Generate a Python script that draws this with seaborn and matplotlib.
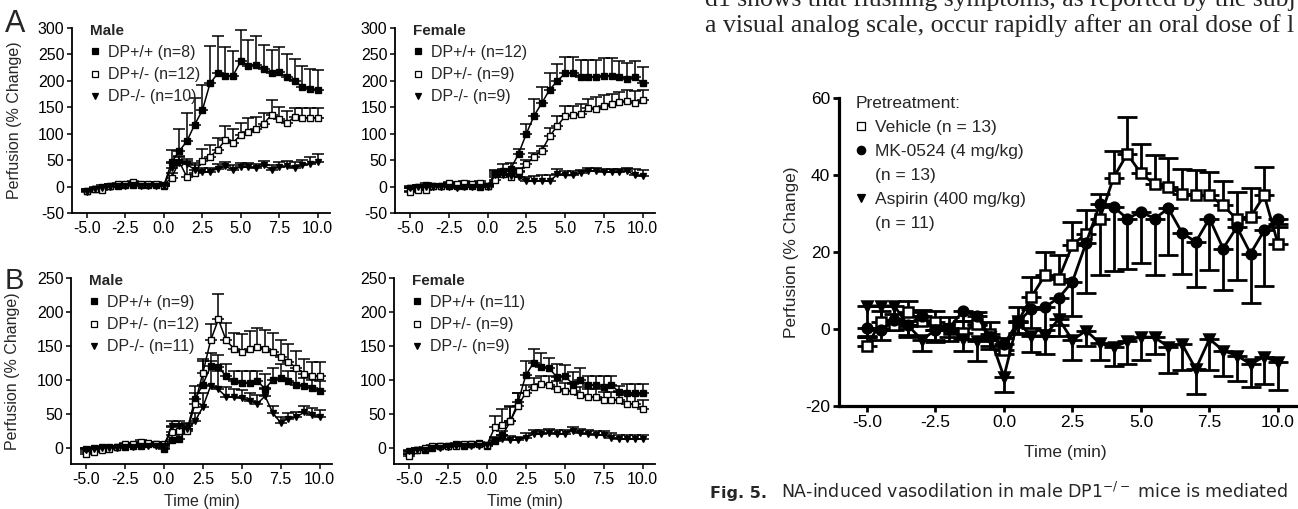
import numpy as np
import pandas as pd
import seaborn as sns
import matplotlib.pyplot as plt
from matplotlib.lines import Line2D

# time points (min)
time = [-5.0, -4.5, -4.0, -3.5, -3.0, -2.5, -2.0, -1.5, -1.0, -0.5, 0.0,
        0.5, 1.0, 1.5, 2.0, 2.5, 3.0, 3.5, 4.0, 4.5, 5.0,
        5.5, 6.0, 6.5, 7.0, 7.5, 8.0, 8.5, 9.0, 9.5, 10.0]

# panel A, male
a_male_wt = [-8, -4, 0, 1, 2, 3, 3, 3, 3, 3, 2, 46, 67, 86, 117, 144, 195, 214, 209, 210, 237,
             229, 230, 222, 215, 216, 207, 199, 189, 184, 182]
a_male_wt_err = [3, 3, 3, 3, 3, 3, 3, 3, 3, 3, 3, 23, 41, 53, 51, 49, 70, 70, 55, 46, 60,
                 48, 54, 45, 43, 48, 43, 43, 40, 39, 39]
a_male_het = [-8, -5, -7, 2, 4, 4, 8, 4, 5, 5, 3, 17, 47, 18, 25, 49, 56, 70, 88, 83, 98,
              103, 109, 119, 136, 128, 120, 132, 130, 130, 130]
a_male_het_err = [3, 3, 3, 3, 3, 3, 3, 3, 3, 3, 3, 8, 8, 30, 20, 22, 23, 22, 26, 26, 22,
                  27, 23, 20, 27, 23, 23, 16, 19, 19, 19]
a_male_ko = [-10, -5, -2, 0, 1, 2, 3, 2, 2, 1, 2, 35, 45, 42, 32, 27, 28, 34, 38, 32, 37,
             37, 35, 40, 32, 37, 38, 36, 40, 43, 46]
a_male_ko_err = [2, 2, 2, 2, 2, 2, 2, 2, 2, 2, 2, 10, 12, 10, 8, 8, 8, 8, 8, 8, 8,
                 8, 8, 8, 8, 10, 10, 10, 10, 12, 16]

# panel A, female
a_fem_wt = [-3, 0, 3, 2, 2, 2, 2, 2, 2, 0, 2, 25, 30, 34, 62, 100, 134, 158, 183, 200, 214,
            214, 207, 207, 207, 210, 210, 207, 204, 207, 195]
a_fem_wt_err = [3, 3, 3, 3, 3, 3, 3, 3, 3, 3, 3, 7, 12, 11, 10, 18, 31, 31, 31, 31, 31,
                31, 33, 33, 33, 33, 33, 30, 30, 30, 31]
a_fem_het = [-11, -7, -7, 2, 2, 6, 5, 7, 5, 7, 1, 13, 24, 18, 29, 42, 56, 68, 95, 115, 133,
             136, 137, 149, 146, 152, 156, 160, 161, 158, 163]
a_fem_het_err = [3, 3, 3, 3, 3, 3, 3, 3, 3, 3, 3, 6, 6, 6, 6, 8, 8, 8, 15, 18, 19,
                 17, 20, 16, 24, 21, 20, 18, 21, 23, 20]
a_fem_ko = [-2, 0, 0, 0, 0, 0, -3, 0, 0, 0, 0, 22, 22, 20, 18, 10, 10, 11, 10, 23, 21,
            21, 26, 30, 30, 28, 27, 27, 30, 21, 20]
a_fem_ko_err = [3, 3, 3, 3, 3, 3, 3, 3, 3, 3, 3, 8, 12, 12, 10, 8, 10, 10, 12, 10, 8,
                8, 6, 6, 6, 6, 6, 6, 6, 12, 12]

# panel B, male
b_male_wt = [-2, -1, 1, 1, 1, 1, 2, 3, 5, 5, -2, 11, 13, 27, 72, 93, 120, 119, 105, 98, 96,
             96, 98, 87, 100, 102, 99, 93, 91, 88, 84]
b_male_wt_err = [2, 2, 2, 2, 2, 2, 2, 2, 2, 2, 2, 8, 10, 10, 19, 35, 20, 17, 18, 15, 17,
                 17, 15, 21, 18, 21, 14, 20, 12, 12, 14]
b_male_het = [-9, -7, -4, -2, 1, 5, 5, 9, 7, 6, 6, 23, 25, 24, 65, 110, 158, 189, 158, 146, 141,
              145, 148, 146, 141, 133, 126, 118, 109, 105, 105]
b_male_het_err = [2, 2, 2, 2, 2, 2, 2, 2, 2, 2, 2, 8, 8, 8, 15, 21, 24, 38, 26, 23, 27,
                  27, 28, 27, 28, 26, 27, 24, 21, 21, 21]
b_male_ko = [-3, -2, -1, 0, 0, 1, 1, 2, 3, 3, 2, 32, 32, 27, 39, 60, 91, 86, 75, 75, 73,
             69, 65, 76, 51, 37, 43, 45, 52, 48, 45]
b_male_ko_err = [2, 2, 2, 2, 2, 2, 2, 2, 2, 2, 2, 8, 8, 8, 12, 20, 37, 27, 14, 12, 12,
                 12, 12, 12, 10, 8, 8, 8, 10, 10, 10]

# panel B, female
b_fem_wt = [-9, -3, -3, 0, 3, 3, 5, 3, 5, 7, 2, 10, 18, 39, 67, 107, 125, 119, 117, 104, 106,
            94, 100, 92, 92, 89, 92, 82, 80, 80, 80]
b_fem_wt_err = [2, 2, 2, 2, 2, 2, 2, 2, 2, 2, 2, 5, 6, 21, 13, 21, 21, 20, 15, 19, 16,
                17, 17, 13, 13, 16, 13, 9, 14, 14, 14]
b_fem_het = [-12, -4, -1, 2, 3, 3, 2, 6, 5, 5, 4, 30, 34, 39, 62, 81, 90, 94, 93, 87, 84,
             83, 77, 75, 75, 70, 70, 71, 65, 64, 57]
b_fem_het_err = [2, 2, 2, 2, 2, 2, 2, 2, 2, 2, 2, 16, 23, 23, 19, 12, 12, 12, 12, 12, 12,
                 12, 12, 12, 12, 12, 12, 12, 12, 14, 14]
b_fem_ko = [-5, -3, -3, -1, 0, 1, 2, 3, 3, 3, 4, 11, 13, 12, 11, 15, 20, 20, 22, 20, 20,
            25, 21, 20, 19, 19, 15, 13, 13, 13, 13]
b_fem_ko_err = [2, 2, 2, 2, 2, 2, 2, 2, 2, 2, 2, 5, 5, 5, 5, 6, 6, 6, 6, 6, 6,
                6, 6, 6, 6, 6, 6, 6, 6, 6, 6]

# Fig. 5 pretreatment panel
vehicle = [-4.3, 1.7, 1.0, 4.3, 2.0, 1.7, 0.0, -1.0, 1.3, -1.3, -5.4, 1.7, 8.3, 14.0, 13.1, 21.8,
           24.8, 28.7, 39.3, 45.5, 40.4, 37.6, 36.9, 35.1, 34.7, 34.7, 32.1, 28.5, 29.1, 34.7, 22.2]
vehicle_err = [2.5, 3, 3, 3, 3, 3, 3, 3, 3, 3, 3, 4, 5.3, 6, 6, 6, 6, 6.3, 7, 9.6, 7.7,
               7.6, 7.4, 6.4, 6.5, 6, 6.3, 7.2, 7.6, 7.3, 5]
mk0524 = [0.3, -0.3, 2.3, 1.0, 3.5, -0.3, 0.3, 4.6, 3.5, -2.0, -4.0, 1.7, 5.2, 5.7, 8.1, 12.3,
          22.4, 32.4, 31.7, 28.7, 30.4, 28.7, 31.3, 25.0, 22.6, 28.7, 20.9, 26.5, 19.6, 25.6, 28.5]
mk0524_err = [2.5, 2.5, 2.5, 2.5, 2.5, 2.5, 2.5, 2.5, 2.5, 2.5, 2.5, 3, 5, 6, 7, 9,
              13, 18.5, 16.7, 13, 13.3, 14.7, 12.1, 10.8, 11.6, 13.5, 10.8, 13.9, 12.8, 14.4, 2]
aspirin = [6, 6, 6, 0.9, -2.8, -0.3, 0, -2.6, -3.2, -2.2, -12.4, 2.0, -1.9, -1.7, 2.6, -2.9,
           -0.4, -3.7, -4.8, -3.2, -2.0, -2.2, -4.6, -3.9, -10.4, -2.6, -5.6, -6.9, -9.1, -7.2, -8.7]
aspirin_err = [8, 6, 6, 3, 3, 3, 3, 3, 5, 3, 4, 3, 4.2, 4.7, 4.3, 5.2,
               3.9, 4.3, 4.8, 6, 6, 4.3, 6.9, 6.7, 6.5, 8, 6.5, 6.7, 6, 7, 7.2]

male_a_labels = ['DP+/+ (n=8)', 'DP+/- (n=12)', 'DP-/- (n=10)']
fem_a_labels = ['DP+/+ (n=12)', 'DP+/- (n=9)', 'DP-/- (n=9)']
male_b_labels = ['DP+/+ (n=9)', 'DP+/- (n=12)', 'DP-/- (n=11)']
fem_b_labels = ['DP+/+ (n=11)', 'DP+/- (n=9)', 'DP-/- (n=9)']
pre_labels = ['Vehicle (n = 13)', 'MK-0524 (4 mg/kg)', '(n = 13)', 'Aspirin (400 mg/kg)', '(n = 11)']

sns.set_theme(style="ticks")
plt.rcParams['font.family'] = ['Liberation Sans', 'DejaVu Sans']
plt.rcParams['axes.edgecolor'] = 'black'
plt.rcParams['xtick.color'] = 'black'
plt.rcParams['ytick.color'] = 'black'
plt.rcParams['axes.unicode_minus'] = False

W, H = 1298, 509
fig = plt.figure(figsize=(W / 100, H / 100), dpi=100)


def box(x0, y_top, w, h):
    return [x0 / W, 1 - (y_top + h) / H, w / W, h / H]


def series(ax, y, err, marker, filled, ms, lw, cap, down=False):
    n = len(err)
    yerr = [err, [0] * n] if down else [[0] * n, err]
    ax.errorbar(time, y, yerr=yerr, fmt='none', ecolor='black',
                elinewidth=lw, capsize=cap, capthick=lw, zorder=2)
    df = pd.DataFrame({'Time': time, 'Perfusion': y})
    sns.lineplot(data=df, x='Time', y='Perfusion', ax=ax, color='black', lw=lw,
                 marker=marker, ms=ms, mfc='black' if filled else 'white',
                 mec='black', mew=lw * 0.9, zorder=3)
    return Line2D([], [], ls='none', marker=marker, ms=ms * 0.85, color='black',
                  mfc='black' if filled else 'white', mec='black', mew=0.9)


def small_panel(rect, ylim, yticks, data, labels, title, xlabel, ylabel):
    ax = fig.add_axes(rect)
    styles = [('s', True), ('s', False), ('v', True)]
    handles = []
    for (y, e), (m, f) in zip(data, styles):
        handles.append(series(ax, y, e, m, f, ms=4.3, lw=1.1, cap=4.2))
    ax.set_xlim(-5.97, 10.8)
    ax.set_ylim(*ylim)
    ax.set_xticks([-5, -2.5, 0, 2.5, 5, 7.5, 10])
    ax.set_xticklabels(['-5.0', '-2.5', '0.0', '2.5', '5.0', '7.5', '10.0'])
    ax.set_yticks(yticks)
    ax.tick_params(labelsize=11.5, length=3.5, width=1.1, pad=2)
    for s in ['left', 'bottom']:
        ax.spines[s].set_linewidth(1.3)
    sns.despine(ax=ax)
    ax.set_xlabel(xlabel, fontsize=11.5)
    ax.xaxis.set_label_coords(0.5, -0.16)
    ax.set_ylabel(ylabel, fontsize=11.5)
    ax.yaxis.set_label_coords(-0.195, 0.5)
    ax.legend(handles, labels, title=title, loc='upper left',
              bbox_to_anchor=(0.07, 1.023), frameon=False, fontsize=11.5,
              title_fontproperties={'weight': 'bold', 'size': 11},
              alignment='left', handlelength=0.6, handletextpad=0.5,
              labelspacing=0.45, borderpad=0, borderaxespad=0)
    return ax


small_panel(box(72, 28, 258, 185), (-50, 300), [-50, 0, 50, 100, 150, 200, 250, 300],
            [(a_male_wt, a_male_wt_err), (a_male_het, a_male_het_err), (a_male_ko, a_male_ko_err)],
            male_a_labels, 'Male', '', 'Perfusion (% Change)')
small_panel(box(395, 28, 260, 185), (-50, 300), [-50, 0, 50, 100, 150, 200, 250, 300],
            [(a_fem_wt, a_fem_wt_err), (a_fem_het, a_fem_het_err), (a_fem_ko, a_fem_ko_err)],
            fem_a_labels, 'Female', '', '')
small_panel(box(71, 278, 261, 186), (-24, 250), [0, 50, 100, 150, 200, 250],
            [(b_male_wt, b_male_wt_err), (b_male_het, b_male_het_err), (b_male_ko, b_male_ko_err)],
            male_b_labels, 'Male', 'Time (min)', 'Perfusion (% Change)')
small_panel(box(394, 278, 261, 186), (-24, 250), [0, 50, 100, 150, 200, 250],
            [(b_fem_wt, b_fem_wt_err), (b_fem_het, b_fem_het_err), (b_fem_ko, b_fem_ko_err)],
            fem_b_labels, 'Female', 'Time (min)', '')

fig.text(5 / W, 1 - 32 / H, 'A', fontsize=22, va='baseline')
fig.text(5 / W, 1 - 289 / H, 'B', fontsize=21, va='baseline')

# right panel
ax = fig.add_axes(box(839, 98, 471, 308))
h_veh = series(ax, vehicle, vehicle_err, 's', False, ms=6.5, lw=2.0, cap=7)
h_mk = series(ax, mk0524, mk0524_err, 'o', True, ms=7.0, lw=2.0, cap=7, down=True)
h_asp = series(ax, aspirin, aspirin_err, 'v', True, ms=7.5, lw=2.0, cap=7, down=True)
ax.set_xlim(-6.02, 11.17)
ax.set_ylim(-20, 60)
ax.set_xticks([-5, -2.5, 0, 2.5, 5, 7.5, 10])
ax.set_xticklabels(['-5.0', '-2.5', '0.0', '2.5', '5.0', '7.5', '10.0'])
ax.set_yticks([-20, 0, 20, 40, 60])
ax.tick_params(labelsize=12.5, length=4.5, width=2, pad=2)
for s in ['left', 'bottom']:
    ax.spines[s].set_linewidth(2.3)
sns.despine(ax=ax)
ax.set_xlabel('Time (min)', fontsize=12.5)
ax.xaxis.set_label_coords(0.48, -0.125)
ax.set_ylabel('Perfusion (% Change)', fontsize=12.5)
ax.yaxis.set_label_coords(-0.085, 0.5)
for h in (h_veh, h_mk, h_asp):
    h.set_markersize(6)
blank = Line2D([], [], ls='none')
leg = ax.legend([h_veh, h_mk, blank, h_asp, blank], pre_labels, title='Pretreatment:',
                loc='upper left', bbox_to_anchor=(0.035, 1.005), frameon=False,
                fontsize=12.5, title_fontsize=12.5, alignment='left',
                handlelength=0.6, handletextpad=0.5, labelspacing=0.5,
                borderpad=0, borderaxespad=0)

# surrounding page text
serif = ['Liberation Serif', 'DejaVu Serif']
fig.text(705 / W, 1 - 6 / H, 'd1 shows that flushing symptoms, as reported by the subj',
         family=serif, fontsize=18.5, va='baseline')
fig.text(705 / W, 1 - 32 / H, 'a visual analog scale, occur rapidly after an oral dose of l',
         family=serif, fontsize=18.5, va='baseline')
fig.text(710 / W, 1 - 498 / H, 'Fig. 5.', family=['DejaVu Sans'],
         fontsize=11.5, weight='bold', va='baseline')
fig.text(781 / W, 1 - 498 / H, r'NA-induced vasodilation in male DP1$^{-/-}$ mice is mediated',
         family=['DejaVu Sans'], fontsize=12.5, va='baseline')

fig.savefig('out.png', dpi=100)
